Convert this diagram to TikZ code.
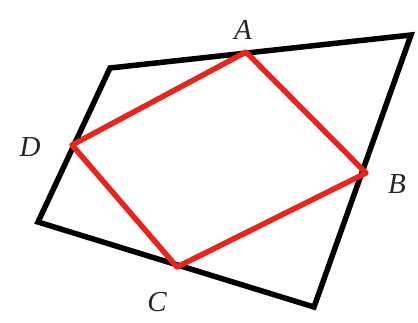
\documentclass[tikz,border=0pt]{standalone}
\usepackage{fontspec}
\setmainfont{Liberation Serif}
\begin{document}
\begin{tikzpicture}[x=1pt,y=-1pt,
  outer/.style={draw=black,line width=5.5pt,line join=miter},
  inner/.style={draw={rgb,255:red,228;green,38;blue,30},line width=5.5pt,line join=round},
  lbl/.style={font=\fontsize{29}{33}\selectfont\itshape,inner sep=0pt,text=black!85}]
\useasboundingbox (0,0) rectangle (418,322);
\coordinate (P1) at (110,68);
\coordinate (P2) at (411,35);
\coordinate (P3) at (314,307);
\coordinate (P4) at (38,222);
\coordinate (A) at (246,52);
\coordinate (B) at (366,173);
\coordinate (C) at (177,267);
\coordinate (D) at (72,145);
\draw[outer] (P1) -- (P2) -- (P3) -- (P4) -- cycle;
\draw[inner] (A) -- (B) -- (C) -- (D) -- cycle;
\node[lbl] (lA) at (243,30) {A};
\node[lbl] (lB) at (397,184) {B};
\node[lbl] (lC) at (157,302) {C};
\node[lbl] (lD) at (30,147) {D};
\end{tikzpicture}
\end{document}
